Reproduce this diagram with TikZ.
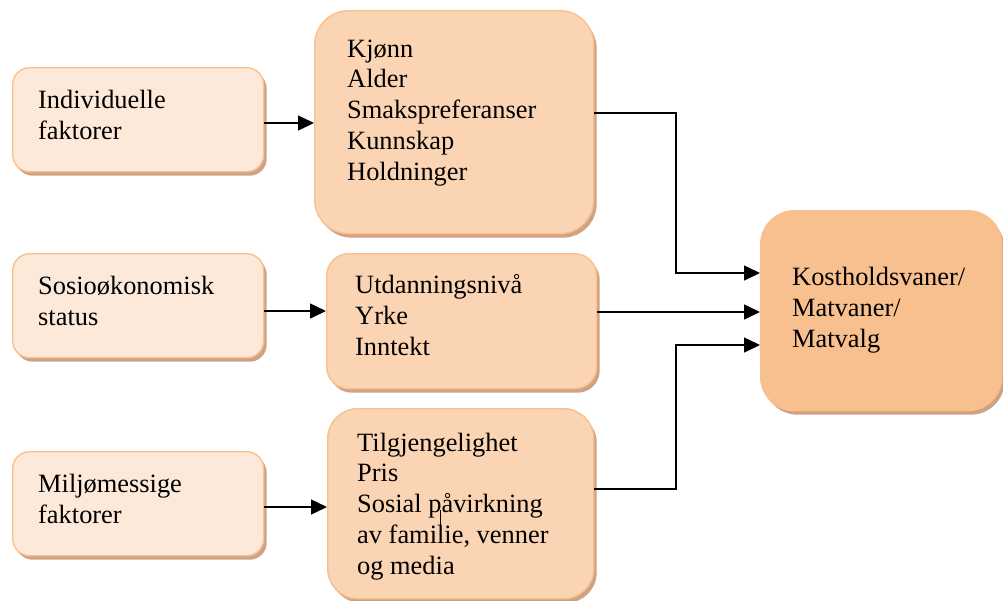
\documentclass[tikz,border=0pt]{standalone}
\usepackage{fontspec}
\setmainfont{Liberation Serif}
\usetikzlibrary{arrows.meta,shadows}
\definecolor{lfill}{HTML}{FDE9D9}
\definecolor{mfill}{HTML}{FBD4B4}
\definecolor{rfill}{HTML}{F9C08F}
\definecolor{bord}{HTML}{F8C08F}
\definecolor{shad}{HTML}{CFA282}
\tikzset{
  box/.style={draw=bord, line width=1.4pt, anchor=north west, inner sep=0pt,
    drop shadow={shadow xshift=3pt, shadow yshift=-4pt, fill=shad, opacity=1}},
  txt/.style={anchor=base west, inner sep=0pt, align=left,
    font=\fontsize{26.4}{30.7}\selectfont},
  conn/.style={line width=1.5pt, -{Triangle[length=16pt,width=15pt]}},
  line/.style={line width=1.5pt}
}
\begin{document}
\begin{tikzpicture}[x=1pt,y=-1pt]
\useasboundingbox (0,0) rectangle (1003,600);
% left boxes
\node[box, fill=lfill, rounded corners=17pt, minimum width=251pt, minimum height=104pt] (L1) at (12,67) {};
\node[box, fill=lfill, rounded corners=17pt, minimum width=251pt, minimum height=104pt] (L2) at (12,253) {};
\node[box, fill=lfill, rounded corners=17pt, minimum width=251pt, minimum height=104pt] (L3) at (12,451) {};
% middle boxes
\node[box, fill=mfill, rounded corners=34pt, minimum width=279pt, minimum height=223pt] (M1) at (314,10) {};
\node[box, fill=mfill, rounded corners=22pt, minimum width=270pt, minimum height=135pt] (M2) at (326,253) {};
\node[box, fill=mfill, rounded corners=30pt, minimum width=266pt, minimum height=190pt] (M3) at (327,408) {};
% right box
\node[box, fill=rfill, rounded corners=34pt, minimum width=241pt, minimum height=200pt] (R) at (760,210) {};
% texts (anchored at the baseline of the last line)
\node[txt] (tL1) at (38,139) {Individuelle\\faktorer};
\node[txt] (tL2) at (38,325) {Sosioøkonomisk\\status};
\node[txt] (tL3) at (38,523) {Miljømessige\\faktorer};
\node[txt] (tM1) at (347,180) {Kjønn\\Alder\\Smakspreferanser\\Kunnskap\\Holdninger};
\node[txt] (tM2) at (355,355) {Utdanningsnivå\\Yrke\\Inntekt};
\node[txt] (tM3) at (357,574) {Tilgjengelighet\\Pris\\Sosial påvirkning\\av familie, venner\\og media};
\node[txt] (tR) at (792,347) {Kostholdsvaner/\\Matvaner/\\Matvalg};
% connectors
\draw[conn] (L1.east |- 0,123) -- (M1.west |- 0,123);
\draw[conn] (L2.east |- 0,311) -- (M2.west |- 0,311);
\draw[conn] (L3.east |- 0,507) -- (M3.west |- 0,507);
\coordinate (k1) at (676,113);
\coordinate (k2) at (676,489);
\draw[conn] (M1.east |- k1) -- (k1) |- (R.west |- 0,273);
\draw[conn] (M2.east |- 0,312) -- (R.west |- 0,312);
\draw[conn] (M3.east |- k2) -- (k2) |- (R.west |- 0,345);
\coordinate (s1) at (440,510);
\coordinate (s2) at (440,527);
\draw[line width=1pt] (s1) -- (s2);
\end{tikzpicture}
\end{document}
